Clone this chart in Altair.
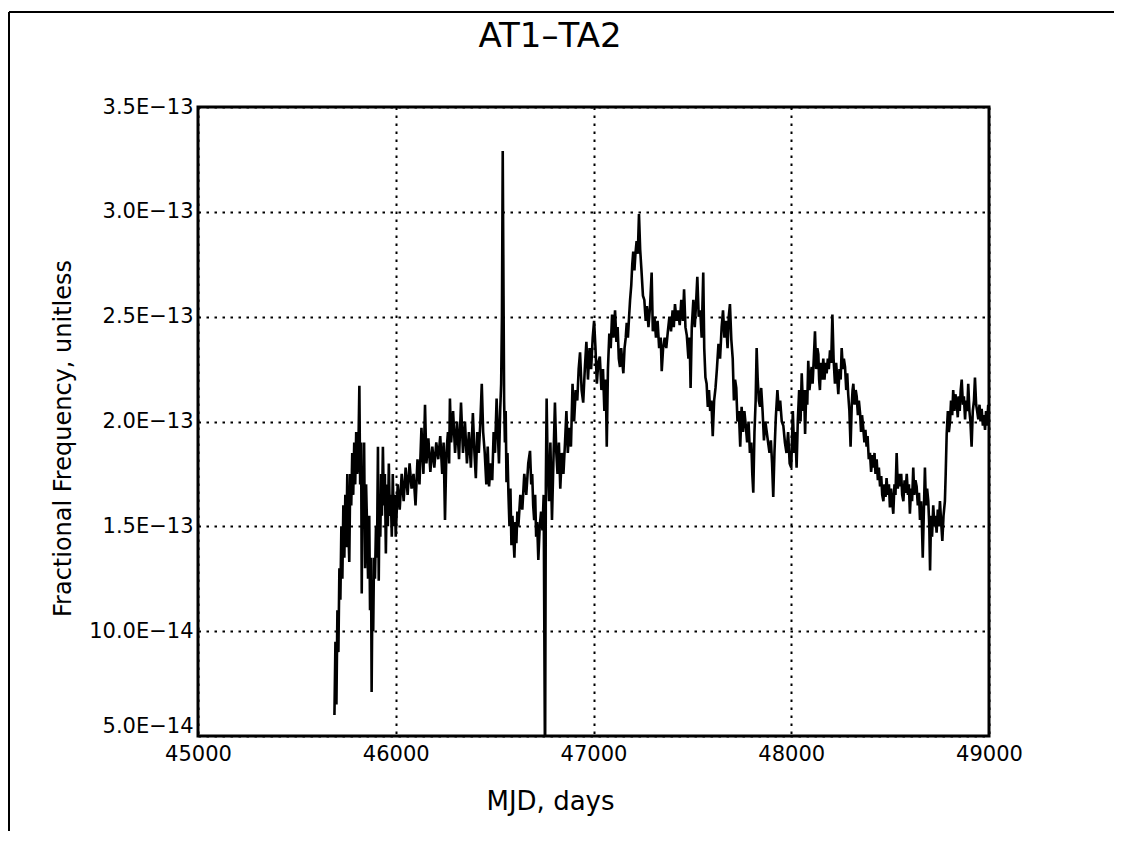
import altair as alt
import pandas as pd

TITLE = "AT1–TA2"
X_TITLE = "MJD, days"
Y_TITLE = "Fractional Frequency, unitless"

X_TICKS = [45000, 46000, 47000, 48000, 49000]
Y_TICKS = [5, 10, 15, 20, 25, 30, 35]  # units of 1e-14
Y_LABELS = ["5.0E−14", "10.0E−14", "1.5E−13", "2.0E−13", "2.5E−13", "3.0E−13", "3.5E−13"]

# MJD (days) and fractional frequency (units of 1e-14)
mjd_a = [45690, 45695, 45700, 45705, 45710, 45715, 45720, 45725, 45730, 45735, 45740, 45745, 45750,
         45755, 45760, 45765, 45770, 45775, 45780, 45785, 45790, 45795, 45800, 45805, 45810, 45816,
         45820, 45825, 45828, 45832, 45836, 45840, 45845, 45850, 45855, 45860, 45866, 45870, 45875,
         45878, 45882, 45886, 45890, 45895, 45900, 45905, 45910, 45914, 45918, 45922, 45926, 45930,
         45935, 45940, 45945, 45950, 45955, 45960, 45965, 45970, 45975, 45980, 45985, 45990, 45995, 46000]
val_a = [6.0, 9.5, 6.5, 11.0, 9.0, 13.0, 11.5, 15.0, 12.5, 16.0, 13.5, 16.5, 14.0,
         17.5, 15.0, 13.3, 17.5, 16.0, 18.5, 16.5, 19.0, 17.0, 19.5, 17.5, 18.0, 21.7,
         17.0, 19.0, 11.8, 17.5, 15.5, 19.0, 13.0, 17.0, 15.0, 12.5, 15.5, 11.0, 13.5,
         7.1, 12.0, 10.0, 13.5, 12.5, 15.0, 13.5, 18.8, 12.4, 16.5, 14.5, 17.5, 15.5,
         18.8, 16.0, 17.5, 13.7, 17.0, 15.0, 18.0, 15.5, 16.5, 14.5, 17.5, 15.0, 16.5, 14.5]

mjd_b = [46010, 46020, 46030, 46040, 46050, 46060, 46070, 46080, 46090, 46100, 46110, 46120, 46130,
         46140, 46148, 46155, 46165, 46175, 46185, 46195, 46205, 46215, 46225, 46235, 46242, 46249,
         46256, 46264, 46270, 46274, 46280, 46290, 46300, 46310, 46320, 46330, 46340, 46350, 46360,
         46370, 46380, 46390, 46398, 46405, 46412, 46420, 46428, 46435, 46442, 46450, 46458, 46465,
         46472, 46480, 46488, 46495, 46502, 46510, 46516, 46522, 46528, 46533, 46537, 46541, 46545,
         46548, 46552, 46556, 46560, 46565, 46570, 46575, 46580, 46585, 46590, 46595, 46600, 46605,
         46610, 46615, 46620, 46630, 46640, 46650, 46660, 46670, 46679, 46685, 46690, 46695, 46700,
         46705, 46710, 46715, 46721, 46728, 46735, 46742, 46748, 46755, 46759, 46763, 46768, 46775,
         46782, 46790, 46797, 46805, 46812, 46818, 46825, 46832, 46840, 46848, 46856, 46863, 46870,
         46878, 46886, 46894, 46902, 46910, 46918, 46925, 46932, 46940, 46948, 46956, 46964, 46972,
         46980, 46988, 46996, 47003, 47010, 47017, 47024, 47032, 47040, 47048, 47055, 47062]
val_b = [17.0, 15.8, 17.5, 16.2, 17.8, 16.5, 18.0, 16.8, 17.5, 16.0, 18.2, 17.0, 19.7,
         17.5, 20.8, 18.0, 19.2, 17.6, 18.8, 17.8, 19.0, 18.2, 19.3, 17.5, 19.0, 15.3,
         18.5, 19.5, 18.0, 21.1, 19.0, 20.5, 18.5, 20.0, 18.2, 20.9, 18.5, 20.0, 18.0,
         19.5, 17.8, 20.4, 18.5, 17.3, 19.5, 18.5, 20.0, 21.8, 19.5, 18.5, 17.0, 18.8,
         16.9, 18.0, 17.2, 19.5, 18.5, 21.1, 19.5, 18.0, 20.5, 21.8, 25.0, 32.9, 26.0,
         21.0, 19.0, 20.5, 17.1, 18.5, 16.5, 15.0, 16.8, 14.1, 15.5, 14.5, 13.5, 15.2,
         14.2, 15.7, 15.0, 16.5, 15.8, 17.5, 16.5, 18.0, 18.6, 17.0, 17.5, 16.0, 15.3,
         16.5, 14.5, 15.2, 13.4, 15.0, 15.7, 14.8, 16.5, 3.0, 17.0, 21.1, 18.0, 16.2,
         19.0, 15.3, 18.0, 20.9, 18.5, 17.5, 19.0, 16.8, 18.5, 17.5, 19.0, 20.5, 18.5,
         19.7, 18.8, 21.8, 20.0, 21.5, 21.0, 22.5, 23.3, 21.5, 20.9, 22.5, 23.8, 22.0,
         23.5, 22.5, 24.0, 24.8, 23.5, 21.8, 22.8, 23.1, 21.5, 22.5, 20.5, 22.0]

mjd_c = [47067, 47073, 47080, 47087, 47094, 47101, 47109, 47116, 47122, 47128, 47134, 47140, 47146,
         47151, 47157, 47163, 47168, 47174, 47180, 47185, 47191, 47196, 47201, 47207, 47212, 47218,
         47224, 47230, 47236, 47242, 47250, 47257, 47264, 47270, 47278, 47286, 47294, 47300, 47308,
         47316, 47324, 47332, 47340, 47345, 47352, 47360, 47368, 47376, 47384, 47392, 47400, 47406,
         47412, 47420, 47428, 47436, 47444, 47452, 47458, 47465, 47472, 47480, 47486, 47491, 47497,
         47505, 47512, 47518, 47525, 47532, 47540, 47547, 47555, 47560, 47566, 47572, 47578, 47584,
         47590, 47596, 47603, 47610, 47617, 47624, 47632, 47640, 47648, 47655, 47662, 47670, 47678,
         47684, 47690, 47697, 47704, 47710, 47716, 47722, 47728, 47735, 47742, 47749, 47756, 47763,
         47770, 47777, 47784, 47791, 47798, 47803, 47808, 47814, 47820, 47825, 47830, 47836, 47842,
         47848, 47855, 47862, 47869, 47876, 47883, 47890, 47897, 47903, 47909, 47915, 47922, 47930,
         47937, 47944, 47952, 47960, 47968, 47976, 47984, 47992, 48000]
val_c = [18.8, 22.5, 24.2, 23.5, 25.1, 24.0, 25.3, 23.8, 24.5, 23.0, 22.6, 23.5, 22.8,
         22.3, 23.5, 24.0, 24.7, 24.0, 25.0, 25.8, 26.5, 27.5, 28.1, 27.2, 28.0, 28.6,
         28.0, 29.9, 28.2, 27.3, 26.0, 25.8, 24.8, 25.5, 24.5, 25.5, 27.1, 24.3, 25.0,
         24.0, 24.8, 23.5, 24.0, 22.4, 23.5, 24.0, 23.5, 24.3, 25.0, 24.3, 25.3, 24.5,
         25.6, 24.8, 25.3, 24.6, 25.8, 24.8, 26.3, 24.5, 24.1, 23.0, 24.0, 21.6, 24.5,
         25.8, 24.5, 25.5, 26.9, 25.0, 25.3, 24.0, 27.1, 23.5, 22.1, 21.8, 20.7, 21.5,
         20.5, 21.0, 19.3, 21.0, 21.6, 22.5, 23.7, 23.0, 24.5, 25.3, 24.0, 24.8, 23.5,
         25.0, 25.6, 23.9, 23.0, 21.0, 22.0, 21.6, 20.0, 20.5, 18.8, 20.7, 19.5, 20.5,
         19.8, 19.0, 20.0, 18.5, 19.0, 17.5, 16.6, 19.5, 21.0, 23.5, 22.1, 21.0, 20.7,
         21.6, 20.5, 19.1, 20.0, 19.5, 19.0, 18.5, 19.1, 18.0, 16.4, 18.5, 20.2, 21.5,
         20.5, 21.0, 20.0, 19.8, 19.0, 18.5, 19.5, 18.0, 17.8]

mjd_d = [48008, 48015, 48021, 48027, 48033, 48040, 48047, 48053, 48060, 48065, 48070, 48076, 48081,
         48086, 48092, 48097, 48103, 48108, 48114, 48120, 48126, 48132, 48137, 48141, 48145, 48150,
         48156, 48162, 48168, 48174, 48179, 48185, 48190, 48196, 48202, 48208, 48214, 48221, 48227,
         48233, 48238, 48244, 48250, 48255, 48261, 48266, 48272, 48278, 48283, 48288, 48294, 48300,
         48306, 48310, 48314, 48320, 48326, 48331, 48337, 48342, 48348, 48353, 48358, 48364, 48370,
         48375, 48381, 48386, 48392, 48398, 48404, 48410, 48415, 48421, 48426, 48432, 48438, 48443,
         48449, 48455, 48460, 48466, 48471, 48477, 48482, 48488, 48494, 48499, 48505, 48510, 48516,
         48522, 48527, 48533, 48539, 48544, 48550, 48556, 48561, 48567, 48573, 48578, 48584, 48590,
         48595, 48600, 48606, 48611, 48617, 48622, 48628, 48634, 48640, 48646, 48651, 48657, 48661,
         48665, 48670, 48676, 48681, 48687, 48693, 48698, 48702, 48707, 48712, 48718, 48724, 48730,
         48735, 48741, 48746, 48752, 48758, 48764, 48770, 48777, 48781, 48786, 48792, 48797, 48803,
         48808, 48814, 48819, 48825, 48830, 48836, 48842, 48847, 48852, 48857, 48862, 48868, 48873,
         48879, 48884, 48890, 48895, 48901, 48906, 48912, 48918, 48924, 48929, 48935, 48940, 48946,
         48952, 48957, 48963, 48969, 48974, 48980, 48985, 48990, 48996]
val_d = [20.5, 18.5, 19.5, 17.8, 20.0, 21.5, 20.0, 22.3, 20.5, 21.5, 19.4, 21.5, 20.8,
         22.9, 21.5, 22.0, 22.6, 21.8, 23.0, 24.3, 22.5, 23.5, 23.2, 22.0, 21.5, 22.8,
         22.0, 23.0, 22.0, 22.8, 22.3, 23.0, 22.5, 23.4, 22.8, 25.1, 23.0, 21.8, 22.8,
         22.0, 21.3, 22.5, 22.0, 23.5, 22.5, 23.0, 22.6, 21.5, 22.3, 21.3, 20.5, 18.8,
         20.8, 21.5, 21.8, 20.8, 21.5, 21.2, 20.3, 21.0, 20.4, 19.5, 20.3, 19.7, 19.0,
         19.6, 18.8, 19.3, 18.2, 18.5, 17.6, 18.4, 17.8, 18.5, 17.5, 18.2, 17.2, 17.8,
         16.9, 17.4, 16.5, 16.2, 17.0, 16.4, 17.3, 16.5, 17.0, 15.9, 16.8, 16.2, 15.6,
         17.0, 16.5, 18.5, 16.8, 17.5, 16.9, 17.5, 16.5, 16.2, 17.2, 16.6, 17.5, 16.5,
         17.0, 15.6, 16.8, 16.2, 17.8, 16.5, 17.2, 16.9, 16.0, 16.6, 15.3, 16.2, 15.0,
         13.5, 15.5, 17.8, 16.0, 16.8, 16.2, 15.0, 12.9, 15.5, 14.5, 16.0, 15.0, 15.5,
         14.7, 15.8, 15.0, 16.2, 15.2, 14.3, 15.5, 16.2, 17.5, 19.4, 20.5, 19.5, 20.0,
         21.0, 20.3, 21.5, 20.5, 21.3, 21.0, 20.2, 21.2, 20.5, 21.5, 22.0, 20.8, 21.2,
         20.1, 21.0, 20.5, 21.8, 20.5, 20.0, 18.8, 20.5, 21.0, 22.1, 20.8, 20.5, 20.1,
         20.8, 20.0, 20.6, 19.8, 20.3, 19.6, 20.5, 19.8, 20.8]

mjd = mjd_a + mjd_b + mjd_c + mjd_d
vals = val_a + val_b + val_c + val_d
df = pd.DataFrame({"mjd": mjd, "ff": [v * 1e-14 for v in vals]})

# label expression from tick lists
expr = "''"
for t, lab in zip(Y_TICKS, Y_LABELS):
    expr = f"round(datum.value*1e14)=={t} ? '{lab}' : (" + expr + ")"

FONT = "DejaVu Sans"

line = alt.Chart(df).mark_line(color="black", strokeWidth=2.6, clip=True).encode(
    x=alt.X("mjd:Q",
            scale=alt.Scale(domain=[45000, 49000], nice=False, zero=False),
            axis=alt.Axis(values=X_TICKS, format="d", title=X_TITLE, labelFlush=False,
                          titleX=352, titleY=73, titleBaseline="alphabetic", titleAlign="center",
                          titleFontSize=26, titleFont=FONT, titleFontWeight="normal", titleColor="black",
                          labelFont=FONT, labelFontSize=21, labelColor="black", labelPadding=7,
                          ticks=False, domain=False, grid=True, gridColor="black",
                          gridDash=[2.5, 5.5], gridWidth=2, gridOpacity=1)),
    y=alt.Y("ff:Q",
            scale=alt.Scale(domain=[5e-14, 3.5e-13], nice=False, zero=False),
            axis=alt.Axis(values=[t * 1e-14 for t in Y_TICKS], labelExpr=expr, title=Y_TITLE,
                          labelFlush=False,
                          titleX=-128, titleY=331, titleAngle=270, titleBaseline="alphabetic",
                          titleAlign="center", titleFontSize=24, titleFont=FONT,
                          titleFontWeight="normal", titleColor="black",
                          labelFont=FONT, labelFontSize=21, labelColor="black", labelPadding=5,
                          labelBaseline={"condition": {"test": "datum.value < 6e-14", "value": "bottom"},
                                         "value": "middle"},
                          ticks=False, domain=False, grid=True, gridColor="black",
                          gridDash=[2.5, 5.5], gridWidth=2, gridOpacity=1)),
)

one = pd.DataFrame({"t": [TITLE]})
title = alt.Chart(one).mark_text(fontSize=34, font=FONT, baseline="alphabetic", align="center",
                                 color="black").encode(
    text="t:N", x=alt.value(352), y=alt.value(-60))

frame_top = alt.Chart(one).mark_rule(color="black", strokeWidth=2).encode(
    x=alt.value(-189), x2=alt.value(930), y=alt.value(-95))
frame_left = alt.Chart(one).mark_rule(color="black", strokeWidth=2).encode(
    x=alt.value(-189), y=alt.value(-95), y2=alt.value(740))

chart = alt.layer(line, title, frame_top, frame_left).properties(
    width=791, height=629,
    autosize=alt.AutoSizeParams(type="none"),
    padding={"left": 190, "top": 99, "right": 125, "bottom": 95},
).configure(background="white").configure_view(stroke="black", strokeWidth=3)

chart.save("out.html", embed_options={"renderer": "svg", "actions": False})
